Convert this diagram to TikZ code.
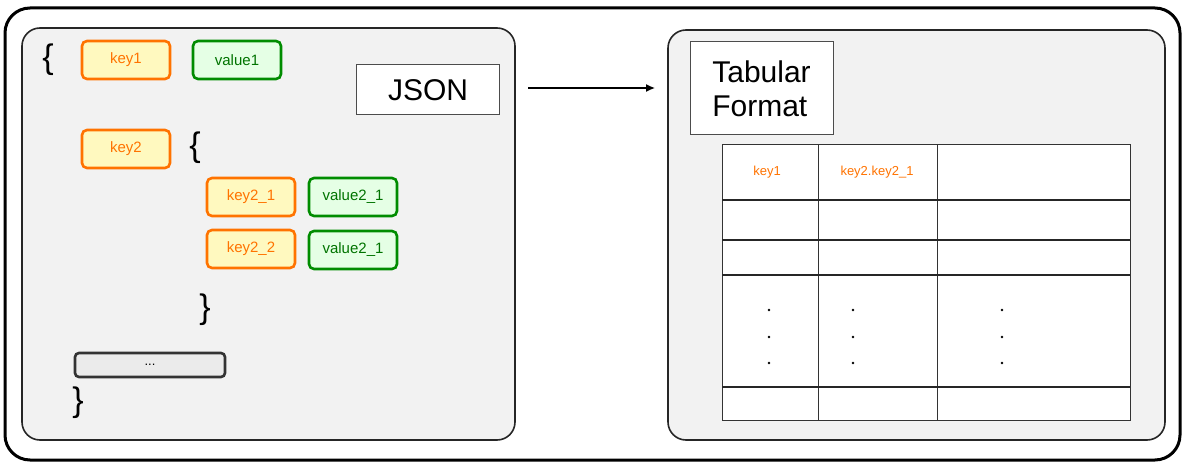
\documentclass[tikz,border=0pt]{standalone}
\usepackage{fontspec}
\setmainfont{Liberation Sans}
\usetikzlibrary{arrows.meta}
\begin{document}
\begin{tikzpicture}[x=1pt,y=-1pt,
 panel/.style={draw=black!85,line width=1.6pt,rounded corners=18pt,fill=black!5},
 key/.style={draw=orange!90!red,line width=2.6pt,fill=orange!20!yellow!25,rounded corners=5pt,minimum width=88pt,minimum height=38pt,text=orange!90!red,font=\fontsize{15}{18}\selectfont},
 val/.style={draw=green!55!black,line width=2.6pt,fill=green!10,rounded corners=5pt,minimum width=88pt,minimum height=38pt,text=green!45!black,font=\fontsize{15}{18}\selectfont},
 lbl/.style={draw=black!70,line width=1pt,fill=white,align=left},
 hdr/.style={text=orange!90!red,font=\fontsize{13}{15}\selectfont},
 brace/.style={font=\fontsize{34}{36}\selectfont}]
\useasboundingbox (0,0) rectangle (1185,465);
\draw[line width=3pt,rounded corners=25pt] (5,8) rectangle (1180,460);
\node[panel,minimum width=493pt,minimum height=412pt,inner sep=0pt] (L) at (268.5,234) {};
\node[panel,minimum width=497pt,minimum height=410pt,inner sep=0pt] (R) at (916.5,235) {};
\node[brace] (b1) at (48,60) {\{};
\node[key] (k1) at (126,60) {key1};
\node[val] (v1) at (237,60) {value1};
\node[lbl,minimum width=143pt,minimum height=50pt,font=\fontsize{30}{34}\selectfont] (json) at (428,90) {JSON};
\coordinate (as) at (528,88);
\coordinate (ae) at (655,88);
\draw[line width=1.3pt,-{Latex[length=9pt,width=8pt]}] (as) -- (ae);
\node[key] (k2) at (126,149) {key2};
\node[brace] (b2) at (195,148) {\{};
\node[key] (k21) at (251,197) {key2\_1};
\node[val] (v21) at (353,197) {value2\_1};
\node[key] (k22) at (251,249) {key2\_2};
\node[val] (v22) at (353,250) {value2\_1};
\node[brace] (b3) at (205,310) {\}};
\node[draw=black!80,line width=2.6pt,fill=black!8,rounded corners=4pt,minimum width=150pt,minimum height=24pt,inner sep=0pt,font=\fontsize{13}{14}\selectfont] (dots) at (150,365) {...};
\node[brace] (b4) at (78,403) {\}};
\node[lbl,minimum width=143pt,minimum height=93pt,font=\fontsize{30}{34}\selectfont,align=left,inner sep=4pt] (tf) at (761.5,88.5) {Tabular\\Format};
\node[draw=black!80,line width=1pt,fill=white,minimum width=408pt,minimum height=275pt,inner sep=0pt] (T) at (926,282.5) {};
\foreach \x in {818,937} \draw[line width=1pt,black!80] (\x,145) -- (\x,420);
\foreach \y in {200,240,275,387} \draw[line width=1.2pt,black!85] (722,\y) -- (1130,\y);
\node[hdr] (h1) at (767,172) {key1};
\node[hdr] (h2) at (877,172) {key2.key2\_1};
\foreach \x in {769,853,1002} \foreach \y in {310,337,363} \fill (\x,\y) circle (1.3pt);
\end{tikzpicture}
\end{document}
